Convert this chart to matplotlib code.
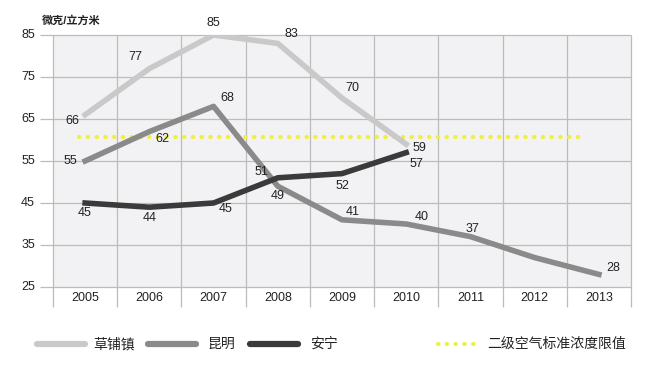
import matplotlib
matplotlib.use('Agg')
import matplotlib.pyplot as plt
from matplotlib.lines import Line2D

plt.rcParams['font.family'] = ['Liberation Sans', 'Noto Sans CJK SC', 'DejaVu Sans']

# ------------------- 数据 -------------------
years = ['2005', '2006', '2007', '2008', '2009', '2010', '2011', '2012', '2013']
caopu = [66, 77, 85, 83, 70, 59]
kunming = [55, 62, 68, 49, 41, 40, 37, 32, 28]
anning = [45, 44, 45, 51, 52, 57]
limit_val = 60.7
y_ticks = [25, 35, 45, 55, 65, 75, 85]
series_names = ['草铺镇', '昆明', '安宁']
limit_name = '二级空气标准浓度限值'
unit = '微克/立方米'

# 标签显示（2012 昆明无标签）
kunming_show = [True, True, True, True, True, True, True, False, True]

c_light = '#c9c9c9'
c_mid = '#8a8a8a'
c_dark = '#3a3a3a'
c_yellow = '#f0f03a'
dot_ls = (0, (0.1, 2.0))

W, H = 658, 381
fig = plt.figure(figsize=(W / 100, H / 100), dpi=100)
ax = fig.add_axes([53 / W, 1 - 287 / H, (631 - 53) / W, (287 - 35) / H])
ax.set_facecolor('#f2f2f4')
ax.set_xlim(-0.5, len(years) - 0.5)
ax.set_ylim(25, 85)
for s in ax.spines.values():
    s.set_visible(False)
ax.set_xticks([])
ax.set_yticks([])

# 网格
ax.hlines(y_ticks, -0.7, len(years) - 0.5, color='#bcbcbc', lw=0.9, clip_on=False, zorder=1)
ax.vlines([i - 0.5 for i in range(len(years) + 1)], 20.2, 85, color='#bcbcbc', lw=0.9,
          clip_on=False, zorder=1)

for v in y_ticks:
    ax.text(-0.78, v, str(v), ha='right', va='center', fontsize=9, color='#222222')
for i, y in enumerate(years):
    ax.text(i, 22.3, y, ha='center', va='center', fontsize=9, color='#222222')
ax.text(-0.68, 87.2, unit, ha='left', va='bottom', fontsize=8, fontweight='bold', color='#222222')

# 限值线
ax.plot([-0.1, 7.7], [limit_val, limit_val], color=c_yellow, lw=3, ls=dot_ls,
        dash_capstyle='round', zorder=2)

ax.plot(range(len(caopu)), caopu, color=c_light, lw=4, solid_joinstyle='round', zorder=3)
ax.plot(range(len(kunming)), kunming, color=c_mid, lw=4, solid_joinstyle='round', zorder=4)
ax.plot(range(len(anning)), anning, color=c_dark, lw=4, solid_joinstyle='round', zorder=5)

# 数值标签 (偏移, 像素)
off_caopu = [(-13, -6), (-14, 12), (0, 12), (14, 9), (10, 10), (13, -4)]
off_kunming = [(-15, 0), (13, -7), (14, 8), (0, -10), (11, 8), (15, 7), (2, 8), (0, 0), (14, 6)]
off_anning = [(0, -10), (0, -11), (12, -6), (-16, 6), (0, -12), (10, -11)]


def label(vals, offs, show=None):
    for i, (v, o) in enumerate(zip(vals, offs)):
        if show is not None and not show[i]:
            continue
        ax.annotate(str(v), (i, v), xytext=o, textcoords='offset pixels',
                    ha='center', va='center', fontsize=9, color='#222222', zorder=6)


label(caopu, off_caopu)
label(kunming, off_kunming, kunming_show)
label(anning, off_anning)

# 图例
ly = 1 - 344 / H
for (x0, x1, tx), c, name in zip([(37, 85, 93), (148, 196, 208), (250, 298, 310)],
                                 [c_light, c_mid, c_dark], series_names):
    fig.add_artist(Line2D([x0 / W, x1 / W], [ly, ly], color=c, lw=4.5, solid_capstyle='round'))
    fig.text(tx / W, ly, name, ha='left', va='center', fontsize=10, color='#222222')
fig.add_artist(Line2D([438 / W, 480 / W], [ly, ly], color=c_yellow, lw=3, ls=dot_ls,
                      dash_capstyle='round'))
fig.text(487 / W, ly, limit_name, ha='left', va='center', fontsize=10, color='#222222')

fig.savefig('out.png', dpi=100)
